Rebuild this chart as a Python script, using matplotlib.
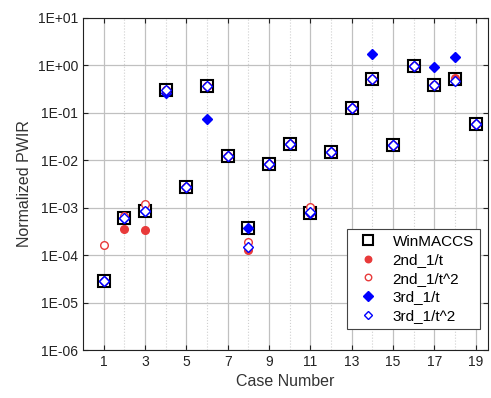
import numpy as np
import matplotlib
matplotlib.use('Agg')
import matplotlib.pyplot as plt
from matplotlib.ticker import FixedLocator, FuncFormatter

plt.rcParams['font.family'] = ['Liberation Sans', 'DejaVu Sans']

cases = np.arange(1, 20)
winmaccs = [2.9e-5, 6.2e-4, 8.5e-4, 0.30, 2.7e-3, 0.36, 0.0123, 3.8e-4, 8.2e-3, 0.0217,
            7.6e-4, 0.0148, 0.128, 0.51, 0.0205, 0.99, 0.39, 0.51, 0.058]
nd_1t = [2.9e-5, 3.5e-4, 3.4e-4, 0.30, 2.7e-3, 0.36, 0.0123, 1.3e-4, 8.2e-3, 0.0217,
         7.6e-4, 0.0148, 0.128, 0.51, 0.0205, 0.99, 0.39, 0.55, 0.058]
nd_1t2 = [1.6e-4, 6.8e-4, 1.2e-3, 0.30, 2.7e-3, 0.36, 0.0123, 1.85e-4, 8.2e-3, 0.0217,
          1.05e-3, 0.0148, 0.128, 0.51, 0.0205, 0.99, 0.39, 0.50, 0.058]
rd_1t = [2.9e-5, 6.2e-4, 8.5e-4, 0.26, 2.7e-3, 0.074, 0.0123, 3.8e-4, 8.2e-3, 0.0217,
         7.6e-4, 0.0148, 0.128, 1.71, 0.0205, 0.99, 0.94, 1.53, 0.058]
rd_1t2 = [2.9e-5, 6.2e-4, 8.5e-4, 0.30, 2.7e-3, 0.36, 0.0123, 1.47e-4, 8.2e-3, 0.0217,
          8.0e-4, 0.0148, 0.128, 0.51, 0.0205, 0.99, 0.39, 0.46, 0.058]

fig = plt.figure(figsize=(4.91, 3.98), dpi=100)
ax = fig.add_axes([0.169, 0.1206, 0.825, 0.8344])

red = '#e83a3a'
# open markers get a white face and sit on top, filled ones peek out only where they differ
ax.plot(cases, winmaccs, 's', ms=8, mfc='white', mec='black', mew=1.5, label='WinMACCS', zorder=3)
ax.plot(cases, nd_1t, 'o', ms=5.5, mfc=red, mec=red, label='2nd_1/t', zorder=4)
ax.plot(cases, rd_1t, 'D', ms=5.5, mfc='blue', mec='blue', label='3rd_1/t', zorder=5)
ax.plot(cases, nd_1t2, 'o', ms=5.5, mfc='white', mec=red, mew=1.0, label='2nd_1/t^2', zorder=6)
ax.plot(cases, rd_1t2, 'D', ms=5, mfc='white', mec='blue', mew=1.0, label='3rd_1/t^2', zorder=7)

ax.set_yscale('log')
ax.set_ylim(1e-6, 1e1)
ax.set_xlim(0, 19.6)
ax.yaxis.set_major_locator(FixedLocator([10.0 ** k for k in range(-6, 2)]))
ax.yaxis.set_minor_locator(FixedLocator([]))
ax.yaxis.set_major_formatter(FuncFormatter(lambda v, p: '1E%+03d' % int(round(np.log10(v)))))
ax.set_xticks(np.arange(1, 20, 2))
ax.set_xticks(np.arange(2, 20, 2), minor=True)

ax.grid(True, which='major', color='#c0c0c0', lw=0.9)
ax.grid(True, which='minor', axis='x', color='#d0d0d0', lw=0.8, ls=':')
ax.set_axisbelow(True)
ax.tick_params(which='both', direction='in', top=True, right=True, labelsize=10, colors='#222222')
ax.tick_params(which='minor', length=0)
for s in ax.spines.values():
    s.set_color('#222222')

ax.set_xlabel('Case Number', fontsize=11.5, color='#333333')
ax.set_ylabel('Normalized PWIR', fontsize=11.5, color='#333333')

h, l = ax.get_legend_handles_labels()
order = [0, 1, 3, 2, 4]
leg = ax.legend([h[i] for i in order], [l[i] for i in order], loc='lower right',
                bbox_to_anchor=(0.98, 0.063), borderaxespad=0, fontsize=11, fancybox=False,
                framealpha=1, edgecolor='#444444', handletextpad=0.6, borderpad=0.4,
                labelspacing=0.3, handlelength=2.0, markerscale=0.85)
leg.get_frame().set_linewidth(0.8)

fig.savefig('out.png', dpi=100)
